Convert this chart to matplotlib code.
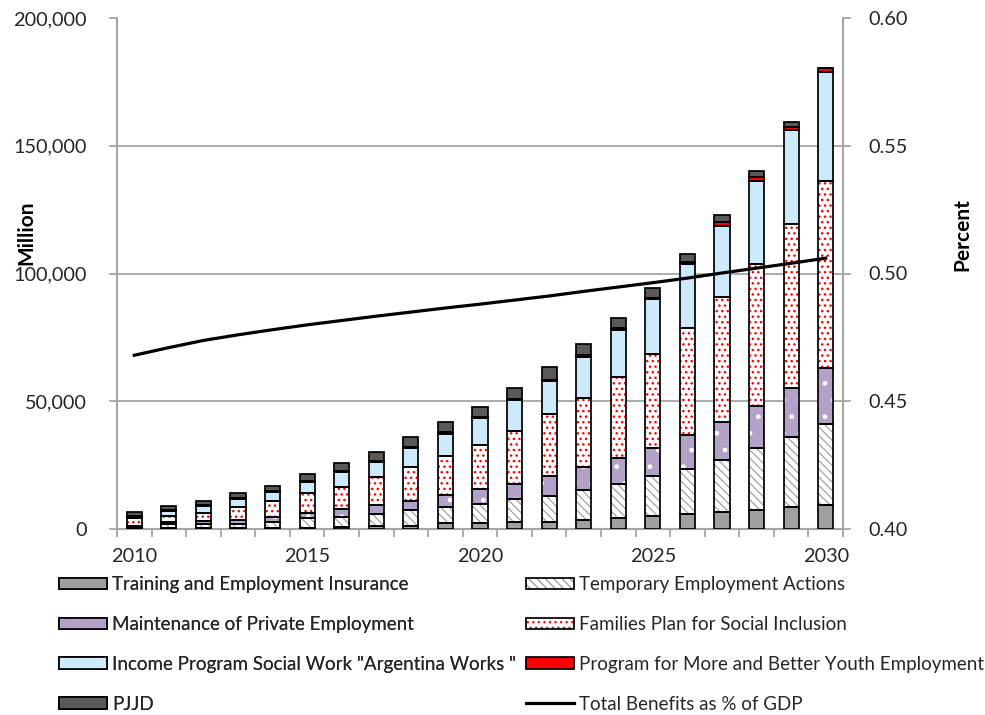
import matplotlib
matplotlib.use("Agg")
import matplotlib.pyplot as plt
from matplotlib.patches import Patch
from matplotlib.lines import Line2D
from matplotlib.ticker import FuncFormatter, FixedLocator
import numpy as np

plt.rcParams['font.family'] = ['Lato', 'DejaVu Sans']
plt.rcParams['hatch.linewidth'] = 0.9

# ---- data (million, and percent of GDP) ----
years = list(range(2010, 2031))
training = [100, 200, 200, 300, 400, 400, 600, 1300, 1300, 2200, 2500,
            2900, 2900, 3500, 4200, 5100, 5900, 6500, 7400, 8700, 9400]
temporary = [100, 1800, 1800, 1700, 2500, 4000, 4000, 4400, 6000, 6400, 7200,
             8800, 10100, 11800, 13400, 15600, 17500, 20500, 24200, 27200, 31600]
maintenance = [1100, 700, 1200, 1500, 1900, 2000, 3200, 3700, 3700, 4600, 5800,
               5800, 7600, 8800, 10300, 10900, 13400, 14800, 16700, 19200, 22100]
families = [2900, 2200, 3200, 5200, 6200, 7600, 8800, 11100, 13100, 15400, 17400,
            20700, 24300, 27300, 31700, 36900, 41700, 48900, 55400, 64300, 73200]
income = [400, 2000, 2600, 2900, 3500, 4400, 5600, 5800, 7500, 8700, 10400,
          12300, 13000, 16000, 18300, 21400, 25200, 27900, 32600, 36800, 42700]
youth = [500, 500, 500, 500, 500, 500, 500, 500, 500, 500, 500,
         500, 600, 600, 600, 700, 900, 1400, 1400, 1000, 1500]
pjjd = [1400, 1600, 1500, 2100, 1800, 2600, 3000, 3500, 4000, 4200, 4100,
        4300, 5000, 4400, 4000, 3600, 2900, 3000, 2400, 2200, 0]
gdp_share = [0.468, 0.471, 0.4738, 0.476, 0.478, 0.4799, 0.4816, 0.4833, 0.4849, 0.4865,
             0.488, 0.4896, 0.4912, 0.493, 0.4947, 0.4964, 0.4982, 0.5002, 0.5021, 0.504, 0.506]

labels = ["Training and Employment Insurance",
          "Temporary Employment Actions",
          "Maintenance of Private Employment",
          "Families Plan for Social Inclusion",
          'Income Program Social Work "Argentina Works "',
          "Program for More and Better Youth Employment",
          "PJJD"]
line_label = "Total Benefits as % of GDP"

# fill colour, hatch pattern, hatch colour, hatch width
styles = [
    ('#a0a0a0', None, None, None),
    ('white', '\\\\\\\\', '#9a9a9a', 0.8),
    ('#b3a2c7', '.', 'white', 1.0),
    ('white', '...', '#ff0000', 1.0),
    ('#cdeafb', None, None, None),
    ('#ff0000', None, None, None),
    ('#595959', None, None, None),
]
values = [training, temporary, maintenance, families, income, youth, pjjd]

W, H = 985, 715
fig = plt.figure(figsize=(W / 100, H / 100), dpi=100)
ax = fig.add_axes([117 / W, 186 / H, 726 / W, 511 / H])

x = np.arange(len(years))
width = 0.44
bottom = np.zeros(len(years))
edge_lw = 1.25
handles = []


def set_hlw(artists, lw):
    for a in artists:
        try:
            a.set_hatch_linewidth(lw)
        except AttributeError:
            pass


for vals, (fc, hatch, hc, hlw) in zip(values, styles):
    v = np.array(vals, dtype=float)
    ax.bar(x, v, width, bottom=bottom, color=fc, edgecolor='none', linewidth=0, zorder=2)
    parts = [Patch(facecolor=fc, edgecolor='none', linewidth=0)]
    if hatch:
        hb = ax.bar(x, v, width, bottom=bottom, color='none', edgecolor=hc,
                    linewidth=0, hatch=hatch, zorder=3)
        set_hlw(hb.patches, hlw)
        hp = Patch(facecolor='none', edgecolor=hc, linewidth=0, hatch=hatch)
        set_hlw([hp], hlw)
        parts.append(hp)
    ax.bar(x, v, width, bottom=bottom, color='none', edgecolor='black',
           linewidth=edge_lw, zorder=4)
    parts.append(Patch(facecolor='none', edgecolor='black', linewidth=edge_lw))
    handles.append(tuple(parts))
    bottom = bottom + v

grid_c = '#a6a6a6'
ax.set_xlim(-0.5, len(years) - 0.5)
ax.set_ylim(0, 200000)
ax.set_yticks(np.arange(0, 200001, 50000))
ax.yaxis.set_major_formatter(FuncFormatter(lambda v, p: f"{v:,.0f}"))
ax.grid(axis='y', color=grid_c, linewidth=1.3, zorder=0)
ax.set_axisbelow(True)
ax.get_ygridlines()[-1].set_visible(False)
ax.get_ygridlines()[0].set_visible(False)

tick_fs = 14.3
txt_c = '#262626'
ax.set_xticks(x[::5])
ax.set_xticklabels([str(y) for y in years[::5]])
ax.xaxis.set_minor_locator(FixedLocator(np.arange(-0.5, len(years), 1.0)))
ax.tick_params(axis='x', which='major', length=0, pad=14, labelsize=tick_fs, labelcolor=txt_c)
ax.tick_params(axis='x', which='minor', length=6, width=1.3, color=grid_c, direction='out')
ax.tick_params(axis='y', which='major', length=6, width=1.3, color=grid_c, direction='out',
               pad=16, labelsize=tick_fs, labelcolor=txt_c)

for s in ['top', 'right']:
    ax.spines[s].set_visible(False)
for s in ['left', 'bottom']:
    ax.spines[s].set_color(grid_c)
    ax.spines[s].set_linewidth(1.5)

ax2 = ax.twinx()
ax2.plot(x, gdp_share, color='black', linewidth=2.3, zorder=5)
ax2.set_ylim(0.40, 0.60)
ax2.set_yticks(np.arange(0.40, 0.601, 0.05))
ax2.yaxis.set_major_formatter(FuncFormatter(lambda v, p: f"{v:.2f}"))
ax2.tick_params(axis='y', which='major', length=6, width=1.3, color=grid_c, direction='out',
                pad=12, labelsize=tick_fs, labelcolor=txt_c)
for s in ['top', 'left', 'bottom']:
    ax2.spines[s].set_visible(False)
ax2.spines['right'].set_color(grid_c)
ax2.spines['right'].set_linewidth(1.5)

fig.text(26 / W, 1 - 233 / H, 'Million', rotation=90, ha='center', va='center',
         fontsize=15, fontweight='bold', color='black')
fig.text(962 / W, 1 - 235 / H, 'Percent', rotation=90, ha='center', va='center',
         fontsize=15, fontweight='bold', color='black')

line_handle = Line2D([0], [0], color='black', linewidth=2.3)
leg_kw = dict(frameon=False, fontsize=13.5, handlelength=2.55, handleheight=0.55,
              handletextpad=0.28, labelspacing=1.22, borderpad=0, borderaxespad=0,
              loc='upper left', labelcolor=txt_c)
left_idx = [0, 2, 4, 6]
right_idx = [1, 3, 5]
leg1 = fig.legend([handles[i] for i in left_idx], [labels[i] for i in left_idx],
                  bbox_to_anchor=(59 / W, 1 - 576 / H), **leg_kw)
fig.add_artist(leg1)
fig.legend([handles[i] for i in right_idx] + [line_handle],
           [labels[i] for i in right_idx] + [line_label],
           bbox_to_anchor=(526 / W, 1 - 576 / H), **leg_kw)

fig.savefig('out.png', dpi=100)
